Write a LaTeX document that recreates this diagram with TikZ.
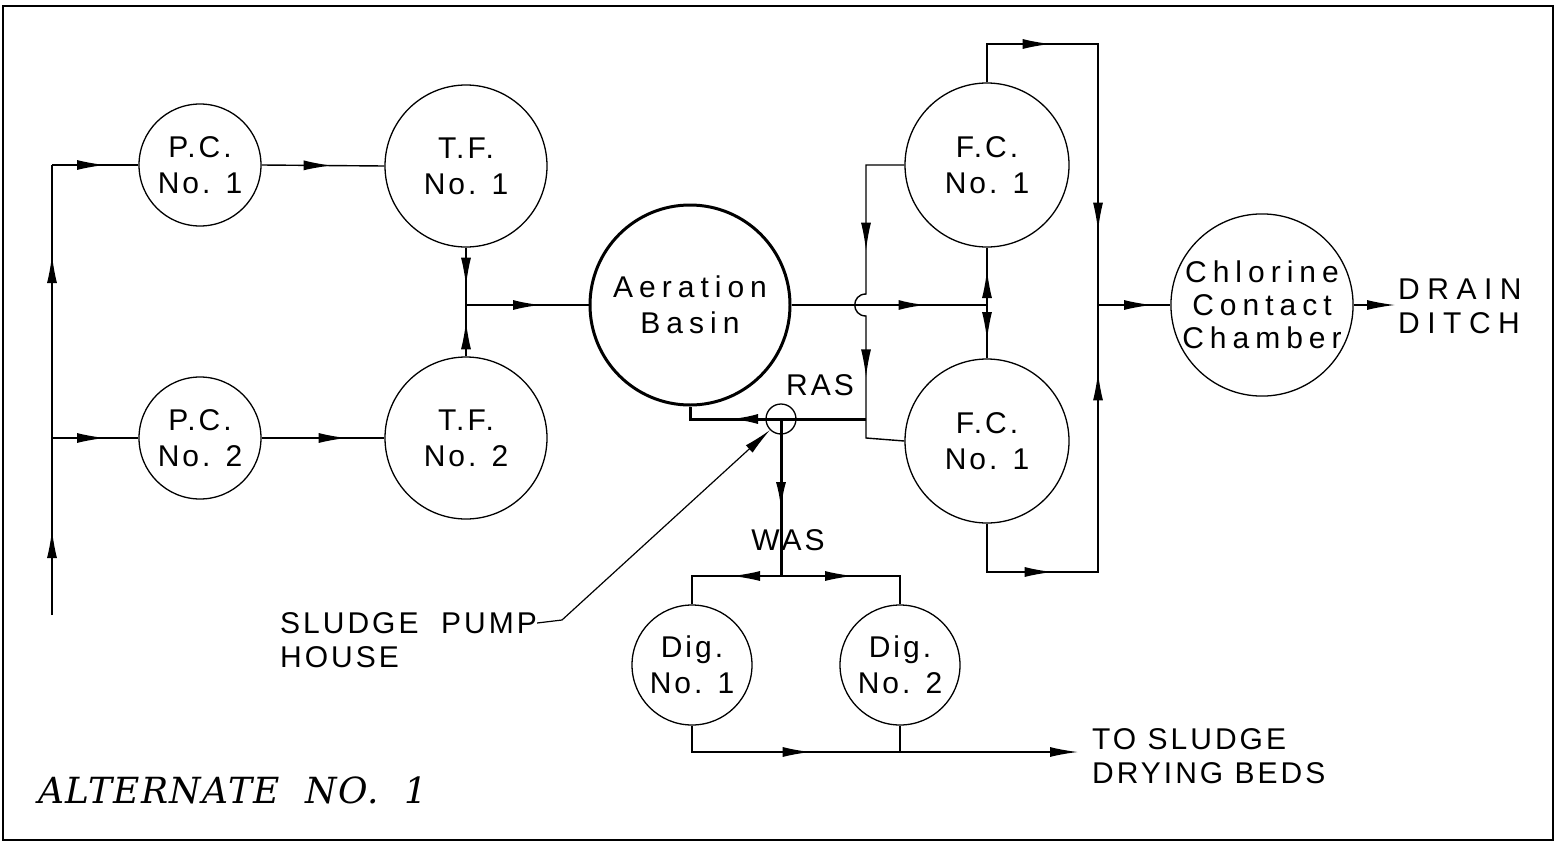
\documentclass[tikz,border=0pt]{standalone}
\usepackage{fontspec}
\setmainfont{Liberation Sans}
\newfontfamily\cadwide{Liberation Sans}[LetterSpace=20]
\newfontfamily\cadlow{Liberation Sans}[LetterSpace=10]
\newfontfamily\cadup{Liberation Sans}[LetterSpace=10]
\newfontfamily\cadspread{Liberation Sans}[LetterSpace=25]
\newfontfamily\italfam{DejaVu Serif}[LetterSpace=4]
\newcommand\circtext{\cadlow\fontsize{30}{36}\selectfont}
\newcommand\widetext{\cadwide\fontsize{30}{36}\selectfont}
\newcommand\labtext{\cadup\fontsize{30}{34}\selectfont}
\usetikzlibrary{arrows.meta,decorations.markings}
\tikzset{
  unit/.style={draw, circle, line width=1.3pt, inner sep=0pt, align=center, font=\circtext},
  lbl/.style={inner sep=0pt, align=left, font=\labtext},
  pipe/.style={line width=1.4pt},
  heavy/.style={line width=3pt},
  am/.style={postaction={decorate,decoration={markings,mark=at position #1 with {\arrow{Latex[length=28pt,width=10pt]}}}}},
  endtip/.style={-{Latex[length=28pt,width=10pt]}},
}
\begin{document}
\begin{tikzpicture}[x=1pt,y=-1pt]
\useasboundingbox (0,0) rectangle (1557,846);
\draw[line width=2.5pt] (3,6) rectangle (1553,840);

% units
\node[unit, minimum size=122pt] (pc1) at (200,165) {P.C.\\No. 1};
\node[unit, minimum size=162pt] (tf1) at (466,166) {T.F.\\No. 1};
\node[unit, minimum size=122pt] (pc2) at (200,438) {P.C.\\No. 2};
\node[unit, minimum size=162pt] (tf2) at (466,438) {T.F.\\No. 2};
\node[unit, minimum size=200pt, line width=3pt, font=\widetext] (ab) at (690,305) {Aeration\\Basin};
\node[unit, minimum size=164pt] (fc1) at (987,165) {F.C.\\No. 1};
\node[unit, minimum size=164pt] (fc2) at (987,441) {F.C.\\No. 1};
\node[unit, minimum size=162pt, font=\cadwide\fontsize{30}{33}\selectfont] (ccc) at (1262,305) {Chlorine\\Contact\\Chamber};
\node[unit, minimum size=120pt] (dig1) at (692,665) {Dig.\\No. 1};
\node[unit, minimum size=120pt] (dig2) at (900,665) {Dig.\\No. 2};
\node[draw, circle, line width=1.3pt, minimum size=30pt, inner sep=0pt] (pump) at (781,419) {};

% labels
\node[lbl] (ras) at (820,385) {RAS};
\node[lbl] (was) at (788,540) {WAS};
\node[lbl, anchor=west] (sp1) at (280,623) {SLUDGE\ \ PUMP};
\node[lbl, anchor=west] (sp2) at (280,657) {HOUSE};
\node[lbl, anchor=west, font=\cadspread\fontsize{30}{34}\selectfont] (drain) at (1398,306) {DRAIN\\DITCH};
\node[lbl, anchor=west] (beds) at (1092,756) {TO\ SLUDGE\\DRYING\ BEDS};
\node[inner sep=0pt, anchor=west, font=\italfam\itshape\fontsize{36}{40}\selectfont] (alt) at (38,790) {ALTERNATE\ \ NO.\ \ 1};

% coordinates
\coordinate (in) at (52,615);
\coordinate (j1) at (52,165);
\coordinate (j2) at (52,438);
\coordinate (tj) at (466,305);
\coordinate (fj) at (987,305);
\coordinate (k1) at (866,165);
\coordinate (k2) at (866,294);
\coordinate (k3) at (866,316);
\coordinate (rj) at (866,419);
\coordinate (k4) at (866,438);
\coordinate (r1) at (690,419);
\coordinate (t1) at (987,44);
\coordinate (t2) at (1098,44);
\coordinate (cj) at (1098,305);
\coordinate (b1) at (987,572);
\coordinate (b2) at (1098,572);
\coordinate (wj) at (781,576);
\coordinate (w1) at (692,576);
\coordinate (w2) at (900,576);
\coordinate (d1) at (692,752);
\coordinate (d2) at (900,752);
\coordinate (dout) at (1078,752);
\coordinate (cout) at (1395,305);
\coordinate (lead) at (562,620);

% influent
\draw[pipe, am=85pt, am=360pt] (in) -- (j1);
\draw[pipe, am=53pt] (j1) -- (pc1.west);
\draw[pipe, am=53pt] (j2) -- (pc2.west);
\draw[pipe, am=70pt] (pc1.east) -- (tf1.west);
\draw[pipe, am=85pt] (pc2.east) -- (tf2.west);
\draw[pipe, am=38pt] (tf1.south) -- (tj);
\draw[pipe, am=35pt] (tf2.north) -- (tj);
\draw[line width=2pt, am=75pt] (tj) -- (ab.west);

% aeration to final clarifiers
\draw[line width=2.5pt, am=135pt] (ab.east) -- (fj);
\draw[pipe, am=35pt] (fj) -- (fc1.south);
\draw[pipe, am=35pt] (fj) -- (fc2.north);

% return sludge
\draw[pipe, am=124pt, am=264pt] (fc1.west) -- (k1) -- (k2) .. controls (851,294) and (851,316) .. (k3) -- (rj);
\draw[pipe] (fc2.west) -- (k4) -- (rj);
\draw[heavy, am=136pt] (rj) -- (r1) -- (ab.south);

% effluent
\draw[pipe, am=102pt, am=336pt] (fc1.north) -- (t1) -- (t2) -- (cj);
\draw[pipe, am=114pt, am=359pt] (fc2.south) -- (b1) -- (b2) -- (cj);
\draw[pipe, am=54pt] (cj) -- (ccc.west);
\draw[pipe, endtip] (ccc.east) -- (cout);

% waste sludge
\draw[heavy, am=91pt] (pump.center) -- (wj);
\draw[pipe, am=49pt] (wj) -- (w1) -- (dig1.north);
\draw[pipe, am=72pt] (wj) -- (w2) -- (dig2.north);
\draw[pipe, am=145pt, endtip] (dig1.south) -- (d1) -- (dout);
\draw[pipe] (dig2.south) -- (d2);

% pointer
\draw[line width=1.2pt, endtip] (sp1.east) -- (lead) -- (pump.south west);
\end{tikzpicture}
\end{document}
